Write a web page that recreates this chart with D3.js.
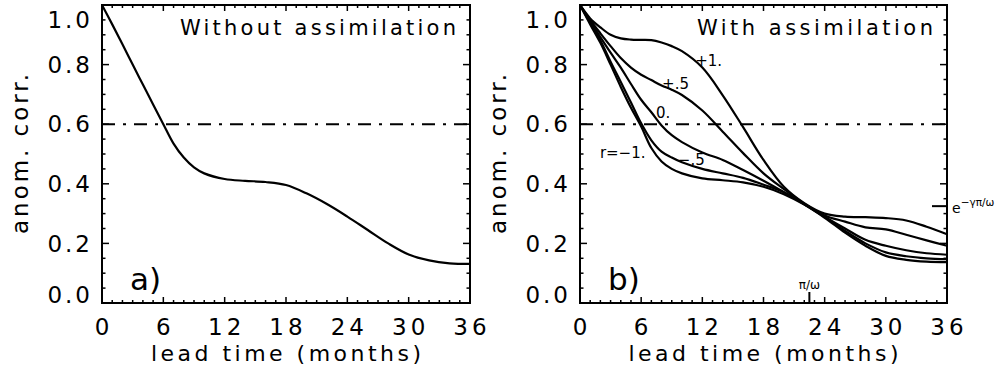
<!DOCTYPE html>
<html>
<head>
<meta charset="utf-8">
<script src="https://cdn.jsdelivr.net/npm/d3@7"></script>
<style>
  body { margin: 0; background: #fff; }
  svg { display: block; font-family: "DejaVu Sans", sans-serif; }
</style>
</head>
<body>
<svg width="1001" height="385"></svg>
<script>
const months = [0, 1, 2, 3, 4, 5, 6, 7, 8, 9, 10, 12, 14, 16, 18, 20, 22, 24, 26, 28, 30, 32, 34, 36];

// panel a) without assimilation
const noAssim = [1.0, 0.935, 0.868, 0.80, 0.733, 0.666, 0.60, 0.535, 0.488, 0.455, 0.435, 0.416, 0.41, 0.406, 0.396, 0.368, 0.332, 0.29, 0.245, 0.20, 0.163, 0.143, 0.133, 0.131];

// panel b) with assimilation, one curve per r
const rLabels = ["+1.", "+.5", "0.", "\u2212.5", "r=\u22121."];
const rPlus1 = [1.0, 0.955, 0.925, 0.90, 0.888, 0.884, 0.883, 0.882, 0.874, 0.862, 0.845, 0.79, 0.697, 0.59, 0.48, 0.39, 0.335, 0.30, 0.29, 0.288, 0.285, 0.277, 0.256, 0.231];
const rPlusHalf = [1.0, 0.95, 0.905, 0.862, 0.822, 0.79, 0.766, 0.748, 0.73, 0.716, 0.698, 0.646, 0.575, 0.503, 0.435, 0.382, 0.333, 0.294, 0.273, 0.254, 0.247, 0.229, 0.21, 0.192];
const rZero = [1.0, 0.945, 0.892, 0.84, 0.79, 0.735, 0.682, 0.64, 0.596, 0.563, 0.54, 0.505, 0.48, 0.446, 0.41, 0.372, 0.332, 0.29, 0.25, 0.212, 0.192, 0.177, 0.167, 0.162];
const rMinusHalf = [1.0, 0.94, 0.881, 0.81, 0.742, 0.673, 0.603, 0.546, 0.508, 0.488, 0.472, 0.45, 0.435, 0.42, 0.397, 0.372, 0.331, 0.288, 0.242, 0.20, 0.17, 0.157, 0.15, 0.147];
const rMinus1 = [1.0, 0.935, 0.873, 0.80, 0.725, 0.655, 0.592, 0.52, 0.475, 0.45, 0.435, 0.418, 0.412, 0.405, 0.39, 0.365, 0.33, 0.286, 0.236, 0.192, 0.158, 0.145, 0.139, 0.137];
const assimSeries = [rPlus1, rPlusHalf, rZero, rMinusHalf, rMinus1];

// where the r labels sit (month, value)
const labelMonths = [11.3, 8.05, 7.45, 9.6, 1.95];
const labelValues = [0.794, 0.717, 0.62, 0.462, 0.486];

const xTicks = [0, 6, 12, 18, 24, 30, 36];
const yTicks = [0.0, 0.2, 0.4, 0.6, 0.8, 1.0];
const threshold = 0.6;
const halfPeriod = 22.5;   // pi/omega
const dampAtHalf = 0.325;  // e^(-gamma pi/omega)

const plotTop = 5, plotBottom = 303;
const svg = d3.select("svg");

function drawPanel(x0, x1, title, titleWidth, tag) {
    const x = d3.scaleLinear().domain([0, 36]).range([x0, x1]);
    const y = d3.scaleLinear().domain([0, 1]).range([plotBottom, plotTop]);
    const g = svg.append("g");

    // ticks on all four sides, pointing inward
    const minorX = d3.range(1, 36);
    g.append("g").selectAll("line")
        .data(minorX)
        .enter()
        .append("line")
        .attr("x1", (d) => x(d)).attr("x2", (d) => x(d))
        .attr("y1", plotBottom).attr("y2", (d) => plotBottom - (d % 6 === 0 ? 6 : 3))
        .attr("stroke", "#000").attr("stroke-width", 1.5);
    g.append("g").selectAll("line")
        .data(minorX)
        .enter()
        .append("line")
        .attr("x1", (d) => x(d)).attr("x2", (d) => x(d))
        .attr("y1", plotTop).attr("y2", (d) => plotTop + (d % 6 === 0 ? 6 : 3))
        .attr("stroke", "#000").attr("stroke-width", 1.5);

    const minorY = d3.range(1, 20).map((i) => i / 20);
    [[x0, 1], [x1, -1]].forEach(([xx, dir]) => {
        g.append("g").selectAll("line")
            .data(minorY)
            .enter()
            .append("line")
            .attr("y1", (d) => y(d)).attr("y2", (d) => y(d))
            .attr("x1", xx).attr("x2", (d, i) => xx + dir * ((i + 1) % 4 === 0 ? 7 : 3.5))
            .attr("stroke", "#000").attr("stroke-width", 1.5);
    });

    // tick labels
    g.append("g").selectAll("text")
        .data(xTicks)
        .enter()
        .append("text")
        .attr("x", (d) => x(d) + 2)
        .attr("y", 335)
        .attr("text-anchor", "middle")
        .attr("font-size", 23)
        .attr("letter-spacing", 4)
        .text((d) => d);
    g.append("g").selectAll("text")
        .data(yTicks)
        .enter()
        .append("text")
        .attr("x", x0 - 9)
        .attr("y", (d) => Math.min(Math.max(y(d), plotTop + 15), plotBottom - 8))
        .attr("dy", "0.36em")
        .attr("text-anchor", "end")
        .attr("font-size", 23)
        .attr("letter-spacing", 3)
        .text((d) => d.toFixed(1));

    // axis titles
    g.append("text")
        .attr("x", (x0 + x1) / 2)
        .attr("y", 361)
        .attr("text-anchor", "middle")
        .attr("font-size", 22)
        .attr("textLength", 270)
        .attr("lengthAdjust", "spacing")
        .text("lead time (months)");
    g.append("text")
        .attr("transform", `translate(${x0 - 74},${(plotTop + plotBottom) / 2}) rotate(-90)`)
        .attr("text-anchor", "middle")
        .attr("font-size", 23)
        .attr("textLength", 160)
        .attr("lengthAdjust", "spacing")
        .text("anom. corr.");

    // threshold line
    g.append("line")
        .attr("x1", x0).attr("x2", x1)
        .attr("y1", y(threshold)).attr("y2", y(threshold))
        .attr("stroke", "#000").attr("stroke-width", 2)
        .attr("stroke-dasharray", "13,8,3,8");

    // frame
    g.append("rect")
        .attr("x", x0).attr("y", plotTop)
        .attr("width", x1 - x0).attr("height", plotBottom - plotTop)
        .attr("fill", "none").attr("stroke", "#000").attr("stroke-width", 2);

    g.append("text")
        .attr("x", x1 - 14 - titleWidth)
        .attr("y", 35)
        .attr("font-size", 21)
        .attr("textLength", titleWidth)
        .attr("lengthAdjust", "spacing")
        .text(title);
    g.append("text")
        .attr("x", x0 + 28)
        .attr("y", 290)
        .attr("font-size", 31)
        .text(tag);

    return { g, x, y };
}

const line = (x, y) => d3.line()
    .x((d, i) => x(months[i]))
    .y((d) => y(d))
    .curve(d3.curveCatmullRom.alpha(0.5));

// a) Without assimilation
const a = drawPanel(102, 470, "Without assimilation", 276, "a)");
a.g.append("path")
    .attr("d", line(a.x, a.y)(noAssim))
    .attr("fill", "none").attr("stroke", "#000").attr("stroke-width", 2.2);

// b) With assimilation
const b = drawPanel(580, 947, "With assimilation", 236, "b)");
b.g.append("g").selectAll("path")
    .data(assimSeries)
    .enter()
    .append("path")
    .attr("d", (s) => line(b.x, b.y)(s))
    .attr("fill", "none").attr("stroke", "#000").attr("stroke-width", 2.2);
b.g.append("g").selectAll("text")
    .data(rLabels)
    .enter()
    .append("text")
    .attr("x", (d, i) => b.x(labelMonths[i]))
    .attr("y", (d, i) => b.y(labelValues[i]))
    .attr("font-size", 15)
    .text((d) => d);

// pi/omega and e^(-gamma pi/omega) markers
b.g.append("line")
    .attr("x1", b.x(halfPeriod)).attr("x2", b.x(halfPeriod))
    .attr("y1", plotBottom).attr("y2", plotBottom - 11)
    .attr("stroke", "#000").attr("stroke-width", 2);
b.g.append("text")
    .attr("x", b.x(halfPeriod))
    .attr("y", 289)
    .attr("text-anchor", "middle")
    .attr("font-size", 12)
    .text("\u03c0/\u03c9");
b.g.append("line")
    .attr("x1", 947 - 15).attr("x2", 947)
    .attr("y1", b.y(dampAtHalf)).attr("y2", b.y(dampAtHalf))
    .attr("stroke", "#000").attr("stroke-width", 2);
const eLab = b.g.append("text")
    .attr("x", 952)
    .attr("y", b.y(dampAtHalf) + 7)
    .attr("font-size", 14);
eLab.append("tspan").text("e");
eLab.append("tspan").attr("dy", -7).attr("font-size", 10.5).text("\u2212\u03b3\u03c0/\u03c9");
</script>
</body>
</html>
